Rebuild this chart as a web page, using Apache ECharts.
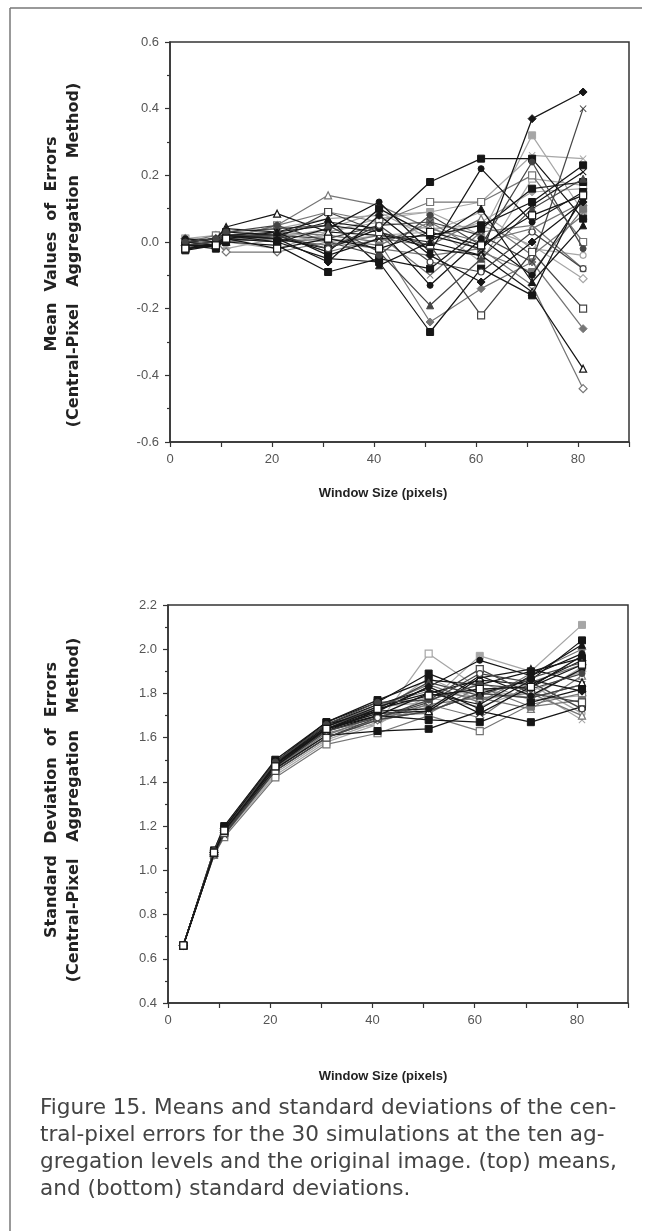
<!DOCTYPE html>
<html>
<head>
<meta charset="utf-8">
<script src="https://cdn.jsdelivr.net/npm/echarts@6/dist/echarts.min.js"></script>
<style>
html,body{margin:0;padding:0;background:#fff;}
#chart{width:655px;height:1231px;}
</style>
</head>
<body>
<div id="chart"></div>
<script>
// ---- data ----
const windowSizes = [3, 9, 11, 21, 31, 41, 51, 61, 71, 81];
const xTickLabels = [0, 20, 40, 60, 80];

// Mean values of errors, 30 simulations (rows) at each window size
const meanErrors = [
  [-0.01, 0.00, 0.02, 0.03, 0.05, 0.03, -0.02, -0.04, 0.37, 0.45],
  [0.00, 0.01, 0.01, 0.02, 0.01, 0.05, 0.06, 0.02, -0.06, 0.40],
  [0.01, 0.00, 0.02, 0.04, 0.07, 0.08, 0.09, 0.12, 0.26, 0.25],
  [-0.02, -0.01, 0.03, 0.02, -0.03, 0.10, 0.02, 0.05, 0.12, 0.23],
  [0.00, 0.02, 0.01, 0.05, 0.09, 0.06, 0.12, 0.12, 0.20, 0.00],
  [-0.025, -0.01, 0.02, 0.01, -0.02, 0.04, 0.18, 0.25, 0.25, 0.07],
  [0.00, 0.01, 0.02, 0.00, 0.04, 0.12, -0.03, 0.22, 0.06, 0.15],
  [0.01, 0.00, 0.03, 0.02, 0.03, 0.07, 0.09, 0.02, 0.32, 0.09],
  [0.00, 0.01, 0.045, 0.085, 0.03, 0.02, 0.00, -0.04, -0.15, -0.38],
  [0.01, 0.00, -0.03, -0.03, 0.00, -0.02, -0.04, -0.02, -0.13, -0.44],
  [0.00, 0.00, 0.01, 0.05, 0.14, 0.11, 0.04, 0.00, 0.04, 0.12],
  [-0.02, -0.01, 0.00, -0.01, -0.09, -0.05, -0.08, 0.04, 0.16, 0.18],
  [0.00, -0.01, 0.02, 0.01, 0.09, 0.03, -0.01, -0.22, -0.03, -0.20],
  [-0.01, -0.02, 0.01, 0.00, -0.05, -0.06, -0.27, -0.08, -0.16, 0.15],
  [0.00, 0.01, 0.00, 0.03, 0.02, 0.00, -0.24, -0.14, -0.06, -0.26],
  [0.01, 0.00, 0.02, 0.02, 0.06, 0.04, -0.13, 0.01, -0.10, 0.13],
  [0.00, 0.01, 0.01, 0.01, 0.00, 0.02, 0.03, 0.09, -0.02, -0.04],
  [-0.01, 0.00, 0.03, 0.04, 0.05, -0.03, -0.19, -0.05, 0.10, 0.19],
  [0.01, 0.02, 0.00, -0.02, 0.03, 0.06, 0.04, 0.05, -0.01, -0.11],
  [0.00, -0.01, 0.01, 0.03, -0.04, 0.01, 0.02, -0.02, 0.11, 0.21],
  [0.00, 0.00, 0.02, 0.00, 0.01, -0.01, 0.06, -0.03, -0.09, 0.10],
  [0.01, 0.01, -0.02, 0.01, 0.04, 0.09, 0.01, 0.06, 0.15, 0.16],
  [-0.01, 0.00, 0.02, 0.02, -0.02, 0.05, -0.06, -0.09, 0.03, -0.08],
  [0.00, 0.01, 0.04, 0.03, 0.07, -0.07, 0.00, 0.10, -0.12, 0.05],
  [0.00, -0.01, 0.00, 0.01, -0.01, 0.02, -0.10, 0.03, 0.05, -0.08],
  [0.01, 0.00, 0.01, 0.00, 0.02, 0.00, 0.05, -0.06, 0.19, 0.17],
  [-0.01, -0.01, 0.02, 0.01, -0.06, 0.08, -0.04, -0.12, 0.00, 0.12],
  [0.00, 0.01, 0.03, 0.05, 0.00, -0.04, 0.08, -0.01, 0.24, -0.02],
  [0.00, 0.00, 0.00, 0.02, -0.03, 0.01, -0.01, 0.07, -0.04, 0.08],
  [-0.02, -0.01, 0.01, -0.02, 0.01, -0.02, 0.03, -0.01, 0.08, 0.14]
];

// Standard deviations of errors, 30 simulations (rows) at each window size
const sdErrors = [
  [0.66, 1.08, 1.18, 1.48, 1.64, 1.70, 1.80, 1.86, 1.84, 1.95],
  [0.66, 1.07, 1.16, 1.45, 1.60, 1.68, 1.72, 1.80, 1.78, 1.84],
  [0.66, 1.09, 1.19, 1.48, 1.65, 1.73, 1.78, 1.74, 1.82, 1.68],
  [0.66, 1.08, 1.19, 1.49, 1.67, 1.76, 1.89, 1.80, 1.86, 2.04],
  [0.66, 1.07, 1.15, 1.42, 1.57, 1.62, 1.70, 1.63, 1.75, 1.80],
  [0.66, 1.08, 1.17, 1.46, 1.61, 1.63, 1.64, 1.72, 1.67, 1.74],
  [0.66, 1.08, 1.18, 1.47, 1.63, 1.72, 1.83, 1.95, 1.88, 1.98],
  [0.66, 1.09, 1.20, 1.50, 1.66, 1.74, 1.76, 1.97, 1.90, 2.11],
  [0.66, 1.08, 1.18, 1.49, 1.64, 1.71, 1.72, 1.87, 1.91, 1.85],
  [0.66, 1.07, 1.17, 1.46, 1.62, 1.68, 1.75, 1.69, 1.85, 1.93],
  [0.66, 1.08, 1.18, 1.47, 1.65, 1.75, 1.81, 1.78, 1.73, 1.88],
  [0.66, 1.09, 1.20, 1.50, 1.67, 1.77, 1.86, 1.84, 1.90, 1.96],
  [0.66, 1.08, 1.17, 1.45, 1.60, 1.69, 1.77, 1.91, 1.80, 1.76],
  [0.66, 1.08, 1.18, 1.48, 1.63, 1.70, 1.68, 1.67, 1.76, 1.82],
  [0.66, 1.07, 1.17, 1.46, 1.64, 1.74, 1.84, 1.76, 1.89, 2.00],
  [0.66, 1.08, 1.19, 1.49, 1.66, 1.72, 1.73, 1.88, 1.79, 1.91],
  [0.66, 1.09, 1.19, 1.48, 1.62, 1.66, 1.79, 1.81, 1.84, 1.71],
  [0.66, 1.08, 1.18, 1.47, 1.65, 1.73, 1.85, 1.79, 1.87, 1.94],
  [0.66, 1.07, 1.16, 1.44, 1.59, 1.67, 1.74, 1.85, 1.77, 1.79],
  [0.66, 1.08, 1.18, 1.48, 1.66, 1.75, 1.82, 1.71, 1.83, 1.97],
  [0.66, 1.08, 1.17, 1.46, 1.61, 1.70, 1.71, 1.83, 1.74, 1.77],
  [0.66, 1.09, 1.19, 1.49, 1.64, 1.71, 1.87, 1.77, 1.81, 1.90],
  [0.66, 1.08, 1.18, 1.47, 1.63, 1.69, 1.76, 1.89, 1.85, 1.73],
  [0.66, 1.08, 1.18, 1.48, 1.65, 1.74, 1.80, 1.75, 1.88, 2.02],
  [0.66, 1.07, 1.16, 1.45, 1.60, 1.68, 1.72, 1.80, 1.78, 1.84],
  [0.66, 1.07, 1.16, 1.43, 1.58, 1.66, 1.98, 1.82, 1.78, 1.92],
  [0.66, 1.08, 1.19, 1.48, 1.64, 1.72, 1.83, 1.73, 1.86, 1.81],
  [0.66, 1.09, 1.18, 1.49, 1.66, 1.76, 1.77, 1.84, 1.82, 1.89],
  [0.66, 1.08, 1.17, 1.46, 1.63, 1.69, 1.75, 1.78, 1.80, 1.70],
  [0.66, 1.08, 1.18, 1.47, 1.64, 1.73, 1.79, 1.82, 1.83, 1.93]
];

const captionLines = [
  'Figure 15. Means and standard deviations of the cen-',
  'tral-pixel errors for the 30 simulations at the ten ag-',
  'gregation levels and the original image. (top) means,',
  'and (bottom) standard deviations.'
];

// ---- styles (not data) ----
const tones = { k: '#161616', d: '#454545', g: '#767676', l: '#a6a6a6' };
const X_PATH = 'path://M0,1L1,0L5,4L9,0L10,1L6,5L10,9L9,10L5,6L1,10L0,9L4,5Z';
const markerStyles = [
  ['diamond','k',1], ['x','d',1], ['x','l',1], ['rect','k',1], ['rect','g',0],
  ['rect','k',1], ['circle','k',1], ['rect','l',1], ['triangle','k',0], ['diamond','g',0],
  ['triangle','g',0], ['rect','k',1], ['rect','d',0], ['rect','k',1], ['diamond','g',1],
  ['circle','k',1], ['circle','l',0], ['triangle','d',1], ['diamond','l',0], ['x','k',1],
  ['rect','g',1], ['diamond','l',1], ['circle','d',0], ['triangle','k',1], ['x','g',1],
  ['rect','l',0], ['diamond','k',1], ['circle','d',1], ['triangle','g',0], ['rect','k',0]
];

function makeSeries(rows, axisIdx) {
  return rows.map((row, i) => {
    const [shape, tone, filled] = markerStyles[i % markerStyles.length];
    const c = tones[tone];
    const sym = shape === 'x' ? X_PATH : shape;
    const size = shape === 'diamond' ? 8 : (shape === 'circle' ? 6 : 7);
    return {
      type: 'line',
      xAxisIndex: axisIdx, yAxisIndex: axisIdx,
      data: windowSizes.map((x, j) => [x, row[j]]),
      symbol: sym,
      symbolSize: size,
      showAllSymbol: true,
      lineStyle: { color: c, width: 1.25 },
      itemStyle: filled || shape === 'x'
        ? { color: c, borderColor: c, borderWidth: shape === 'x' ? 0 : 1 }
        : { color: '#ffffff', borderColor: c, borderWidth: 1.2 },
      emphasis: { disabled: true },
      animation: false,
      z: tone === 'l' ? 2 : (tone === 'g' ? 3 : 4)
    };
  });
}

const axisLabelStyle = { color: '#555', fontFamily: 'Liberation Sans', fontSize: 13 };
const axisLineStyle = { show: true, onZero: false, lineStyle: { color: '#333', width: 1.5 } };

function xAxisCfg(gridIndex) {
  return {
    type: 'value', gridIndex, min: 0, max: 90, interval: 10,
    axisLine: axisLineStyle,
    axisTick: { show: true, length: 5, lineStyle: { color: '#333', width: 1.2 } },
    axisLabel: Object.assign({}, axisLabelStyle, {
      margin: 11,
      formatter: v => (xTickLabels.indexOf(v) >= 0 ? String(v) : '')
    }),
    splitLine: { show: false }
  };
}
function yAxisCfg(gridIndex, min, max) {
  return {
    type: 'value', gridIndex, min, max, interval: 0.2,
    axisLine: axisLineStyle,
    axisTick: { show: true, length: 5, lineStyle: { color: '#333', width: 1.2 } },
    minorTick: { show: true, splitNumber: 2, length: 3, lineStyle: { color: '#333', width: 1.2 } },
    axisLabel: Object.assign({}, axisLabelStyle, {
      margin: 11,
      formatter: v => Number(v).toFixed(1)
    }),
    splitLine: { show: false }
  };
}

const chart = echarts.init(document.getElementById('chart'), null, { renderer: 'canvas' });

const titleFont = 'bold 16px "DejaVu Sans"';
const graphics = [
  { type: 'line', shape: { x1: 10, y1: 8, x2: 10, y2: 1231 }, style: { stroke: '#777', lineWidth: 1.5 }, silent: true },
  { type: 'line', shape: { x1: 10, y1: 8, x2: 642, y2: 8 }, style: { stroke: '#777', lineWidth: 1.5 }, silent: true },
  { type: 'text', x: 52, y: 244, rotation: Math.PI / 2,
    style: { text: 'Mean  Values  of  Errors', font: titleFont, fill: '#222', align: 'center', verticalAlign: 'middle' } },
  { type: 'text', x: 74, y: 255, rotation: Math.PI / 2,
    style: { text: '(Central-Pixel   Aggregation   Method)', font: titleFont, fill: '#222', align: 'center', verticalAlign: 'middle' } },
  { type: 'text', x: 52, y: 800, rotation: Math.PI / 2,
    style: { text: 'Standard  Deviation  of  Errors', font: titleFont, fill: '#222', align: 'center', verticalAlign: 'middle' } },
  { type: 'text', x: 74, y: 810, rotation: Math.PI / 2,
    style: { text: '(Central-Pixel   Aggregation   Method)', font: titleFont, fill: '#222', align: 'center', verticalAlign: 'middle' } },
  { type: 'text', x: 383, y: 493,
    style: { text: 'Window Size (pixels)', font: 'bold 13px "Liberation Sans"', fill: '#222', align: 'center', verticalAlign: 'middle' } },
  { type: 'text', x: 383, y: 1076,
    style: { text: 'Window Size (pixels)', font: 'bold 13px "Liberation Sans"', fill: '#222', align: 'center', verticalAlign: 'middle' } }
];
captionLines.forEach((t, i) => {
  graphics.push({ type: 'text', x: 40, y: 1108 + i * 27,
    style: { text: t, font: '21.6px "DejaVu Sans"', fill: '#444', align: 'left', verticalAlign: 'middle' } });
});

chart.setOption({
  backgroundColor: '#ffffff',
  animation: false,
  grid: [
    { left: 170, top: 42, width: 459, height: 400, show: true, borderColor: '#333', borderWidth: 1.5, backgroundColor: 'transparent' },
    { left: 168, top: 605, width: 460, height: 398, show: true, borderColor: '#333', borderWidth: 1.5, backgroundColor: 'transparent' }
  ],
  xAxis: [xAxisCfg(0), xAxisCfg(1)],
  yAxis: [yAxisCfg(0, -0.6, 0.6), yAxisCfg(1, 0.4, 2.2)],
  series: makeSeries(meanErrors, 0).concat(makeSeries(sdErrors, 1)),
  graphic: graphics
});
</script>
</body>
</html>
